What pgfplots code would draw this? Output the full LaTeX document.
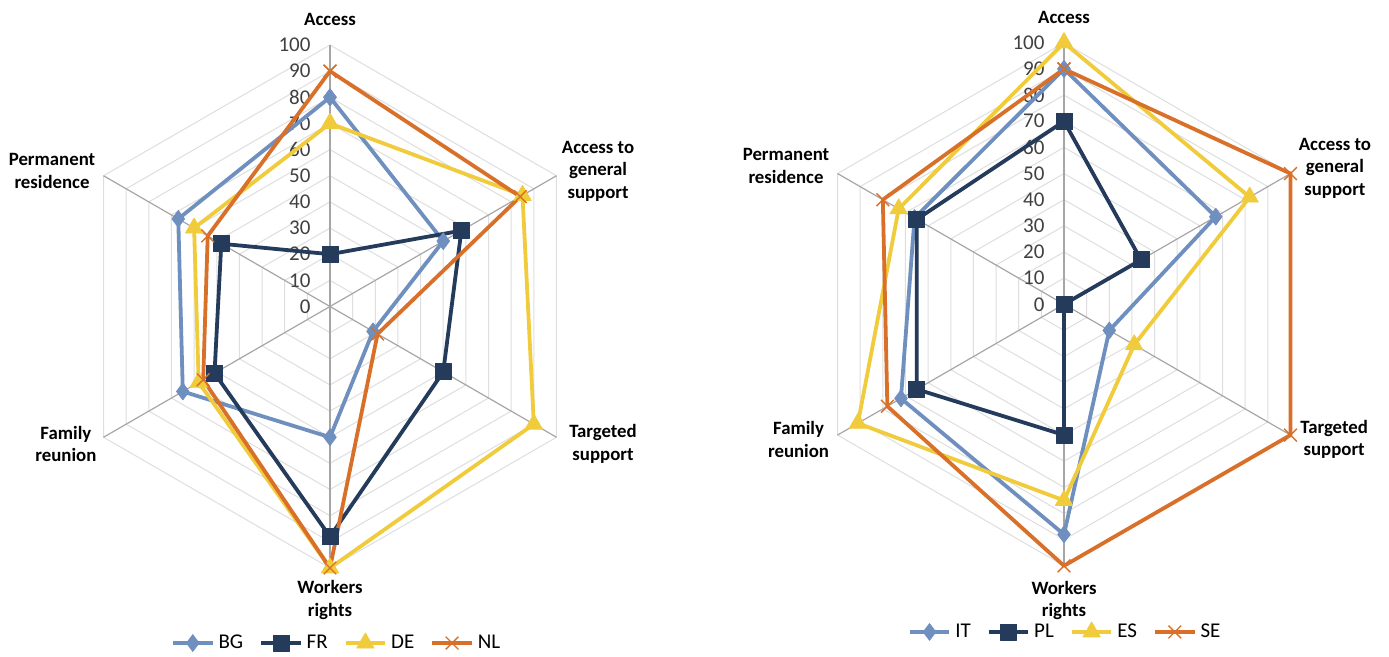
\documentclass[border=0pt]{standalone}
\usepackage{pgfplots}
\pgfplotsset{compat=1.18}
\usepackage{fontspec}
\setmainfont{Carlito}
\definecolor{cA}{HTML}{6F8FBF}
\definecolor{cB}{HTML}{243B5C}
\definecolor{cC}{HTML}{F0CB3C}
\definecolor{cD}{HTML}{D9702A}
\definecolor{ringc}{HTML}{DEDEDE}
\definecolor{spokec}{HTML}{A6A6A6}
\definecolor{tickc}{HTML}{404040}

\pgfplotsset{
  radar/.style={x=1.3075bp, y=1.3075bp, xmin=-100, xmax=100, ymin=-100, ymax=100,
    axis lines=none, clip=false, anchor=center,
    legend columns=4,
    legend style={draw=none, fill=none, anchor=center, inner sep=0pt,
      font=\fontsize{10.5bp}{12bp}\selectfont,
      /tikz/every even column/.append style={column sep=6bp}},
    legend image code/.code={\draw[mark repeat=2,mark phase=2] plot coordinates {(0cm,0cm)(0.35cm,0cm)(0.7cm,0cm)};},
  },
  ser/.style={line width=1.9bp, line join=round, data cs=polar},
  sA/.style={ser, color=cA, mark=diamond*, mark size=4.2bp, mark options={solid, line width=0.4bp, fill=cA}},
  sB/.style={ser, color=cB, mark=square*, mark size=4bp, mark options={solid, line width=0.4bp, fill=cB}},
  sC/.style={ser, color=cC, mark=triangle*, mark size=5bp, mark options={solid, line width=0.4bp, fill=cC}},
  sD/.style={ser, color=cD, mark=x, mark size=4.5bp, mark options={solid, line width=0.7bp}},
}
\newcommand\radargrid{%
  \pgfplotsinvokeforeach{10,20,30,40,50,60,70,80,90,100}{%
    \addplot[ringc, line width=0.5bp, data cs=polar, forget plot] coordinates {(90,##1)(30,##1)(-30,##1)(-90,##1)(-150,##1)(150,##1)(90,##1)};}%
  \pgfplotsinvokeforeach{90,30,-30,-90,-150,150}{%
    \addplot[spokec, line width=0.6bp, data cs=polar, forget plot] coordinates {(##1,0)(##1,100)};}%
  \pgfplotsinvokeforeach{0,10,20,30,40,50,60,70,80,90,100}{%
    \node[anchor=east, inner sep=0pt, text=tickc, font=\fontsize{10.5bp}{12bp}\selectfont] at (axis cs:-7.3,##1) {##1};}%
}
\newcommand\catlabels[6]{%
  \begin{scope}[every node/.style={align=center, inner sep=0pt, font=\fontsize{9.4bp}{11.3bp}\selectfont\bfseries}]
  #1 #2 #3 #4 #5 #6
  \end{scope}}

\begin{document}
\begin{tikzpicture}
\useasboundingbox (0,0) rectangle (694.5bp,328.5bp);

% ---------------- left chart ----------------
\begin{axis}[radar, at={(165bp,175.25bp)}, legend style={at={(0.5145,-0.1435)}}]
\radargrid
% angles: Access 90, Access to general support 30, Targeted support -30,
% Workers rights -90, Family reunion -150, Permanent residence 150
\addplot[sA] coordinates {(90,80)(30,50)(-30,19)(-90,50)(-150,65)(150,67)(90,80)};
\addplot[sB] coordinates {(90,20)(30,58)(-30,50)(-90,88)(-150,51)(150,48)(90,20)};
\addplot[sC] coordinates {(90,70)(30,85)(-30,90)(-90,100)(-150,58)(150,60)(90,70)};
\addplot[sD] coordinates {(90,90)(30,84)(-30,21)(-90,100)(-150,56)(150,54)(90,90)};
\legend{BG,FR,DE,NL}
\begin{scope}[every node/.style={align=center, inner sep=0pt, font=\fontsize{9.4bp}{11.3bp}\selectfont\bfseries}]
\node at (axis cs:0,109.6) {Access};
\node at (axis cs:102.5,51.8) {Access to\\general\\support};
\node at (axis cs:104.4,-52.6) {Targeted\\support};
\node at (axis cs:0,-112.2) {Workers\\rights};
\node at (axis cs:-101,-52.6) {Family\\reunion};
\node at (axis cs:-106.3,51.8) {Permanent\\residence};
\end{scope}
\end{axis}

% ---------------- right chart ----------------
\begin{axis}[radar, at={(532bp,176.35bp)}, legend style={at={(0.504,-0.1265)}}]
\radargrid
\addplot[sA] coordinates {(90,90)(30,67)(-30,20)(-90,88)(-150,72)(150,66)(90,90)};
\addplot[sB] coordinates {(90,70)(30,34)(-30,0)(-90,50)(-150,65)(150,65)(90,70)};
\addplot[sC] coordinates {(90,100)(30,82)(-30,31)(-90,75)(-150,91)(150,73)(90,100)};
\addplot[sD] coordinates {(90,90)(30,100)(-30,100)(-90,100)(-150,78)(150,80)(90,90)};
\legend{IT,PL,ES,SE}
\begin{scope}[every node/.style={align=center, inner sep=0pt, font=\fontsize{9.4bp}{11.3bp}\selectfont\bfseries}]
\node at (axis cs:0,109.7) {Access};
\node at (axis cs:103.6,52.1) {Access to\\general\\support};
\node at (axis cs:103.3,-51.7) {Targeted\\support};
\node at (axis cs:0,-113.3) {Workers\\rights};
\node at (axis cs:-101.5,-51.7) {Family\\reunion};
\node at (axis cs:-106.3,52.9) {Permanent\\residence};
\end{scope}
\end{axis}
\end{tikzpicture}
\end{document}
